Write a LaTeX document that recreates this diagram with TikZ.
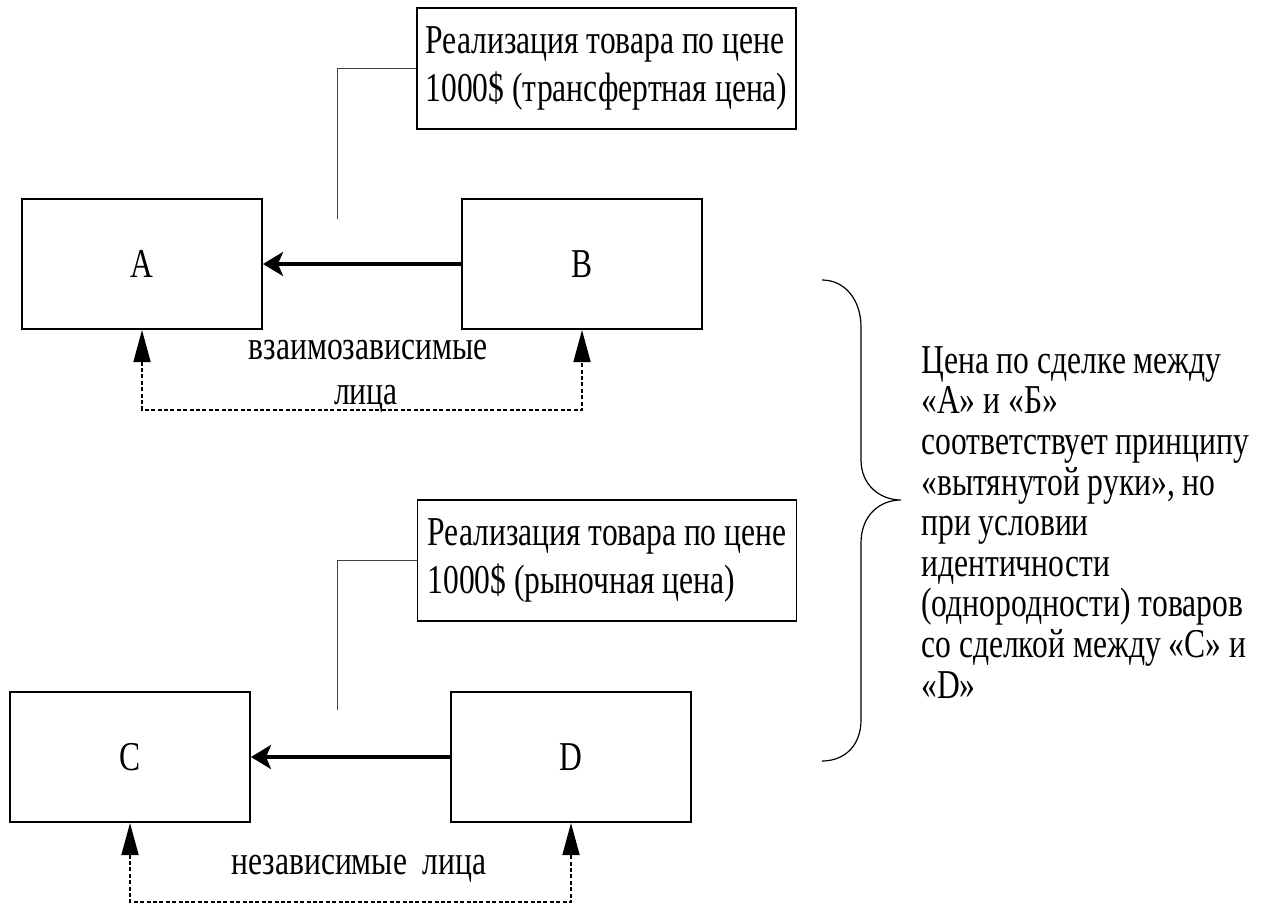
\documentclass[tikz,border=0pt]{standalone}
\usepackage{fontspec}
\setmainfont{Liberation Serif}[FakeStretch=0.77]
\usetikzlibrary{arrows.meta,positioning}

\begin{document}
\begin{tikzpicture}[x=0.5pt,y=-0.5pt,>={Stealth[length=10pt,width=12pt,inset=2.5pt]},
  font=\fontsize{20.5}{24}\selectfont]
  \tikzstyle{firm}=[draw,line width=1pt,minimum width=120pt,minimum height=65pt,inner sep=0pt]
  \tikzstyle{deal}=[draw,line width=0.6pt,minimum width=189.5pt,minimum height=60.5pt,align=left,inner sep=3pt]
  \tikzstyle{lead}=[draw=black!75,line width=0.5pt]
  \tikzstyle{sale}=[line width=1.75pt,->]
  \tikzstyle{link}=[line width=0.8pt,dash pattern=on 2pt off 1.2pt,arrows={Triangle[length=16pt,width=8.5pt]-Triangle[length=16pt,width=8.5pt]}]
  \useasboundingbox (0,0) rectangle (1261,904);
  \node[firm] (A) at (142,264)   {A};
  \node[firm] (B) [right=99pt of A] {B};
  \node[firm] (C) at (130,757)   {C};
  \node[firm] (D) [right=99.5pt of C] {D};
  \node[deal] (deal1) at (606.5,68.5) {Реализация товара по цене\\1000\$ (трансфертная цена)};
  \node[deal] (deal2) at (607,560.5)  {Реализация товара по цене\\1000\$ (рыночная цена)};
  \coordinate (tip1) at (337,219);
  \coordinate (tip2) at (337,710);
  \node[anchor=base] (mutual) at (368,359) {взаимозависимые};
  \node[anchor=base] (mutual2) at (366,404) {лица};
  \node[anchor=base] (free) at (359,874) {независимые~~лица};
  \node[anchor=north west,align=left,inner sep=0pt,font=\fontsize{20.5}{20.3}\selectfont] (note) at (921,346)
    {Цена по сделке между\\«А» и «Б»\\соответствует принципу\\«вытянутой руки», но\\при условии\\идентичности\\(однородности) товаров\\со сделкой между «С» и\\«D»};
  \draw[sale] (B) -- (A);
  \draw[sale] (D) -- (C);
  \draw[lead] (deal1.west) -| (tip1);
  \draw[lead] (deal2.west) -| (tip2);
  \draw[link] (A.south) -- ++(0,80) -| (B.south);
  \draw[link] (C.south) -- ++(0,79) -| (D.south);
  \draw[line width=0.6pt] (822,280) .. controls (845,280) and (861,300) .. (861,327)
    -- (861,460) .. controls (861,485) and (880,500) .. (901,500)
    .. controls (880,500) and (861,515) .. (861,543)
    -- (861,720) .. controls (861,745) and (845,761) .. (822,761);
\end{tikzpicture}
\end{document}
